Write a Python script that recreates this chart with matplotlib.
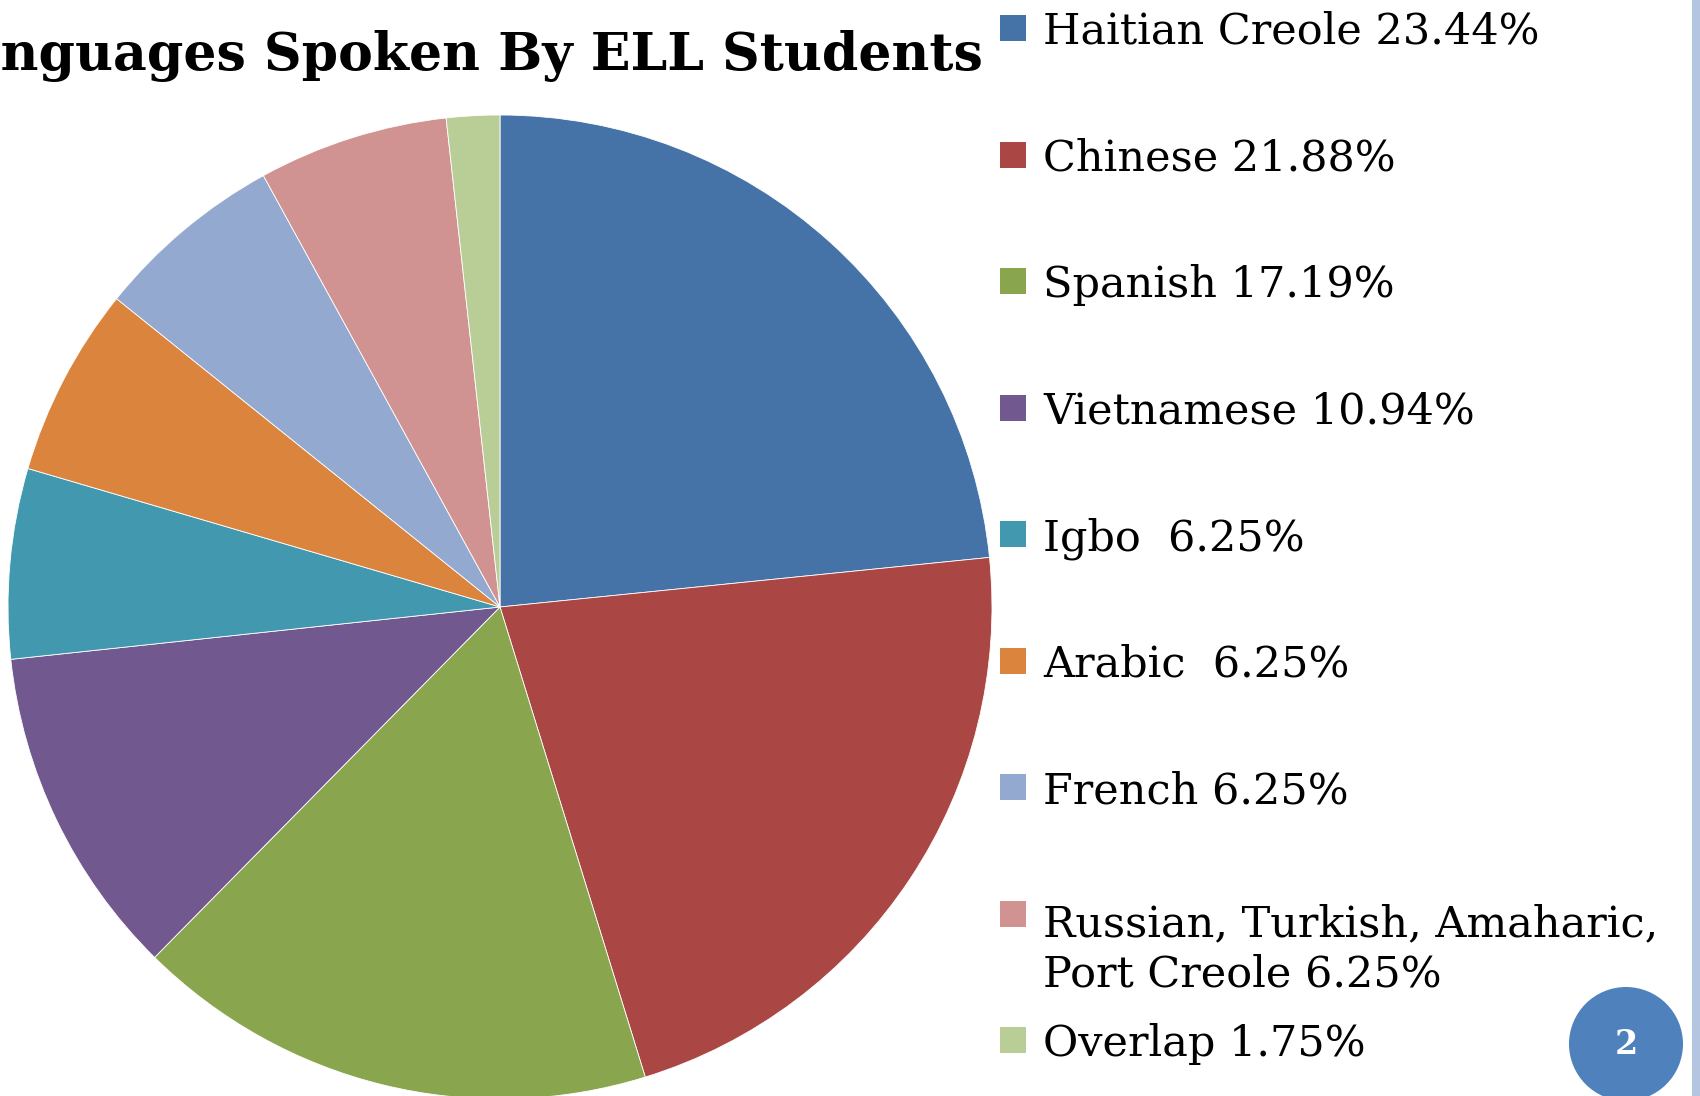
import numpy as np
import matplotlib
matplotlib.use('Agg')
import matplotlib.pyplot as plt
from matplotlib.patches import Rectangle, Circle

# data
languages = ['Haitian Creole 23.44%', 'Chinese 21.88%', 'Spanish 17.19%',
             'Vietnamese 10.94%', 'Igbo  6.25%', 'Arabic  6.25%', 'French 6.25%',
             'Russian, Turkish, Amaharic,\nPort Creole 6.25%', 'Overlap 1.75%']
shares = [23.44, 21.88, 17.19, 10.94, 6.25, 6.25, 6.25, 6.25, 1.75]
colors = ['#4572A7', '#AA4643', '#89A54E', '#71588F', '#4198AF',
          '#DB843D', '#93A9CF', '#D19392', '#B9CD96']

W, H = 1700, 1096
fig = plt.figure(figsize=(W / 100, H / 100), dpi=100)
ax = fig.add_axes([0, 0, 1, 1])

def Y(y):
    # slide measured from the top, axes from the bottom
    return H - y

ax.pie(shares, colors=colors, startangle=90, counterclock=False,
       center=(500, Y(607)), radius=492,
       wedgeprops=dict(edgecolor='white', linewidth=0.6))
ax.set_xlim(0, W)
ax.set_ylim(0, H)
ax.set_aspect('equal')
ax.axis('off')

serif = ['DejaVu Serif', 'Liberation Serif']

ax.text(983, Y(70), 'Languages Spoken By ELL Students', ha='right', va='baseline',
        fontsize=37.5, fontweight='bold', family=serif)

# legend, drawn by hand so the rows sit where the slide puts them
row0, step, line_h = 28, 126.5, 57
for i, (lab, c) in enumerate(zip(languages, colors)):
    yc = row0 + step * i
    n = lab.count('\n')
    ax.add_patch(Rectangle((1000, Y(yc + 13)), 26, 26, color=c, lw=0))
    ax.text(1043, Y(yc + 16 + n * line_h), lab, ha='left', va='baseline',
            fontsize=31, family=serif, linespacing=1.25)

# slide decoration: side bar and page number
ax.add_patch(Rectangle((1692, 0), 12, H, color='#B4C5E1', lw=0, clip_on=False))
ax.add_patch(Circle((1626, Y(1044)), 57, color='#4F81BD', lw=0))
ax.text(1626, Y(1044), '2', ha='center', va='center', color='white',
        fontsize=24, fontweight='bold', family=serif)

fig.savefig('out.png', dpi=100)
